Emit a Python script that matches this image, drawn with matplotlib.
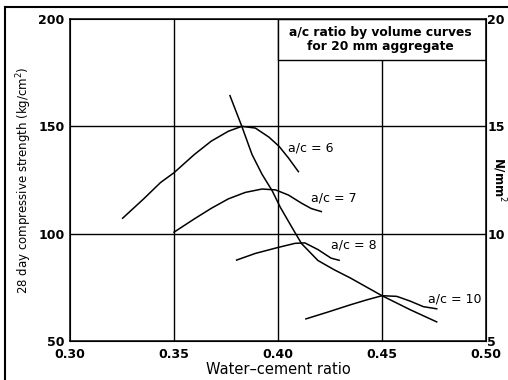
import matplotlib
matplotlib.use('Agg')
import matplotlib.pyplot as plt
from matplotlib.patches import Rectangle
from matplotlib.lines import Line2D

plt.rcParams['font.family'] = ['DejaVu Sans']

# curves (water-cement ratio, strength kg/cm2)
ac6_x = [0.3253, 0.3354, 0.3435, 0.350, 0.3598, 0.3679, 0.3761, 0.3826, 0.3891, 0.3956, 0.4005, 0.4050, 0.4098]
ac6_y = [107.2, 116.2, 123.8, 128.4, 136.9, 143.1, 147.7, 150.0, 149.2, 145.0, 140.7, 135.3, 128.9]
ac7_x = [0.350, 0.3598, 0.3679, 0.3761, 0.3842, 0.3923, 0.3988, 0.4050, 0.4113, 0.4160, 0.4208]
ac7_y = [100.7, 106.9, 111.8, 116.2, 119.2, 120.8, 120.4, 118.0, 114.2, 111.7, 110.3]
ac8_x = [0.3801, 0.3891, 0.3997, 0.4082, 0.4129, 0.4192, 0.4255, 0.4294]
ac8_y = [87.7, 90.8, 93.5, 95.5, 95.7, 92.6, 88.6, 87.6]
ac10_x = [0.4134, 0.4237, 0.4349, 0.4428, 0.4500, 0.4571, 0.4635, 0.4699, 0.4763]
ac10_y = [60.3, 63.4, 66.9, 69.2, 71.1, 70.8, 68.6, 66.0, 65.0]
opt_x = [0.3769, 0.3826, 0.3875, 0.3923, 0.3972, 0.4011, 0.4066, 0.4113, 0.4192, 0.4270,
         0.4349, 0.4428, 0.4500, 0.4635, 0.4763]
opt_y = [164.3, 150.0, 136.9, 127.7, 120.0, 112.3, 103.1, 95.4, 87.5, 83.2,
         79.3, 75.0, 71.1, 64.6, 58.9]

curve_labels = ['a/c = 6', 'a/c = 7', 'a/c = 8', 'a/c = 10']
label_x = [0.405, 0.416, 0.4255, 0.4723]
label_y = [140.0, 116.4, 94.6, 69.5]

xticks = [0.30, 0.35, 0.40, 0.45, 0.50]
yticks = [50, 100, 150, 200]
yticks_si = ['5', '10', '15', '20']

fig = plt.figure(figsize=(5.08, 3.80), dpi=100)
ax = fig.add_axes([0.1378, 0.1026, 0.8189, 0.8474])
ax.set_xlim(0.30, 0.50)
ax.set_ylim(50, 200)

for gx in xticks[1:-1]:
    ax.axvline(gx, color='black', lw=1.0, zorder=1)
for gy in yticks[1:-1]:
    ax.axhline(gy, color='black', lw=1.0, zorder=1)

for xs, ys in [(ac6_x, ac6_y), (ac7_x, ac7_y), (ac8_x, ac8_y), (ac10_x, ac10_y), (opt_x, opt_y)]:
    ax.plot(xs, ys, color='black', lw=1.1, zorder=3, solid_joinstyle='round')

for t, lx, ly in zip(curve_labels, label_x, label_y):
    ax.text(lx, ly, t, fontsize=9, ha='left', va='center', zorder=4)

# title box in the top right cell
ax.add_patch(Rectangle((0.40, 181), 0.10, 19, facecolor='white', edgecolor='black',
                       lw=1.0, zorder=2))
ax.text(0.449, 190.5, 'a/c ratio by volume curves\nfor 20 mm aggregate', ha='center',
        va='center', fontsize=8.8, fontweight='bold', linespacing=1.15, zorder=4)

ax.set_xticks(xticks)
ax.set_xticklabels(['%.2f' % v for v in xticks], fontsize=9, fontweight='bold')
ax.set_yticks(yticks)
ax.set_yticklabels([str(v) for v in yticks], fontsize=9, fontweight='bold')
ax.tick_params(axis='x', length=0, pad=5)
ax.tick_params(axis='y', length=0, pad=4)
for s in ax.spines.values():
    s.set_linewidth(1.1)

ax2 = ax.twinx()
ax2.set_ylim(50, 200)
ax2.set_yticks(yticks)
ax2.set_yticklabels(yticks_si, fontsize=9, fontweight='bold')
ax2.tick_params(length=0, pad=1)
ax2.set_ylabel('N/mm$^2$', rotation=-90, fontsize=8.5, fontweight='bold')
ax2.yaxis.set_label_coords(1.03, 0.5)
ax2.yaxis.label.set_va('center')

ax.set_xlabel('Water\u2013cement ratio', fontsize=10.5, labelpad=1)
ax.set_ylabel('28 day compressive strength (kg/cm$^2$)', fontsize=8.5, labelpad=3)

# scanned page frame
fig.add_artist(Line2D([5 / 508, 5 / 508], [0, 1 - 7 / 380], color='black', lw=1.5))
fig.add_artist(Line2D([5 / 508, 1], [1 - 7 / 380, 1 - 7 / 380], color='black', lw=1.5))

fig.savefig('out.png', dpi=100)
